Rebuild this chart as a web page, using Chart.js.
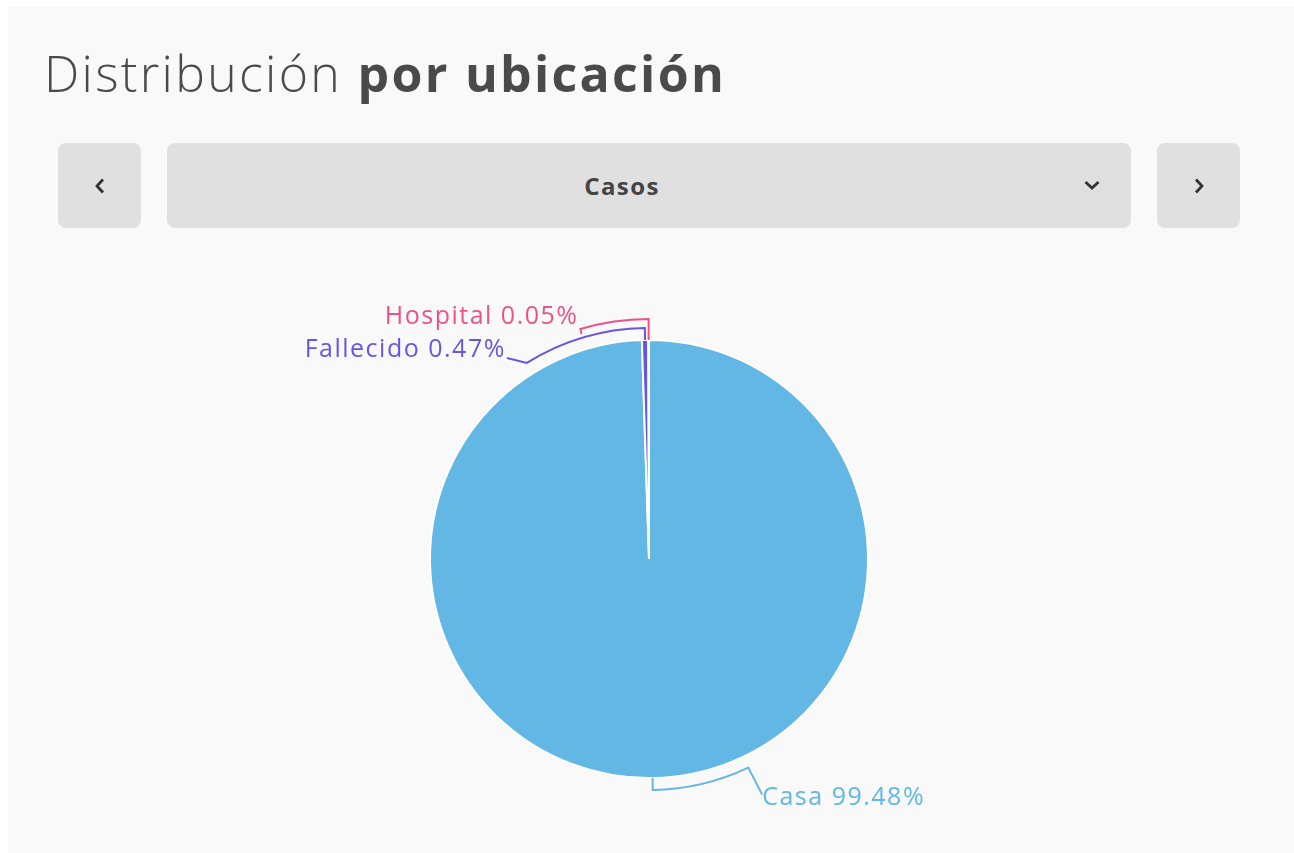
<!DOCTYPE html>
<html>
<head>
<meta charset="utf-8">
<script src="https://cdn.jsdelivr.net/npm/chart.js@4/dist/chart.umd.min.js"></script>
<style>
  html, body { margin: 0; padding: 0; background: #fff; }
  body { width: 1294px; height: 853px; position: relative; overflow: hidden; font-family: "Open Sans", sans-serif; }
  .card { position: absolute; left: 8px; top: 7px; width: 1286px; height: 846px; background: #f9f9f9; }
  h1 { position: absolute; left: 36px; top: 36px; margin: 0; font-size: 50px; line-height: 60px; font-weight: 300; color: #4a4a4a; white-space: nowrap; letter-spacing: 2.3px; }
  h1 b { font-weight: 700; }
  .btn { position: absolute; top: 136px; height: 85px; background: #e0e0e0; border-radius: 8px; color: #333; display: flex; align-items: center; justify-content: center; }
  .btn svg { width: 20px; height: 20px; }
  #prev { left: 50px; width: 83px; }
  #next { left: 1149px; width: 83px; }
  #sel { left: 159px; width: 964px; font-weight: 700; font-size: 24px; letter-spacing: 1.4px; color: #444; }
  #sel span { position: relative; left: -27px; }
  #sel svg { position: absolute; left: 915px; top: 32px; }
  .wrap { position: absolute; left: 0; top: 240px; width: 1294px; height: 613px; }
</style>
</head>
<body>
<div class="card">
  <h1>Distribución <b>por ubicación</b></h1>
  <div class="btn" id="prev"><svg viewBox="0 0 20 20"><path d="M13 3.5 L7 10 L13 16.5" fill="none" stroke="#333" stroke-width="2.8"/></svg></div>
  <div class="btn" id="sel"><span>Casos</span><svg viewBox="0 0 20 20"><path d="M3.5 7 L10 13 L16.5 7" fill="none" stroke="#333" stroke-width="2.8"/></svg></div>
  <div class="btn" id="next"><svg viewBox="0 0 20 20"><path d="M7 3.5 L13 10 L7 16.5" fill="none" stroke="#333" stroke-width="2.8"/></svg></div>
</div>
<div class="wrap"><canvas id="pie"></canvas></div>
<script>
var ubicaciones = ['Casa', 'Fallecido', 'Hospital'];
var porcentajes = [99.48, 0.47, 0.05];
var colores = ['#62b7e5', '#6b55e0', '#ea5288'];

// callout settings per slice: radial offset, bend angle (deg from slice middle), tick end, text offset
var callouts = [
  { off: 12, bend: -24.5, tick: [14, 27], text: [0, 3], align: 'left' },
  { off: 12, bend: -30.9, tick: [-20, -5], text: [-1, -8], align: 'right' },
  { off: 21, bend: -16.5, tick: [1, 5], text: [-3, -17], align: 'right' }
];

var calloutPlugin = {
  id: 'callouts',
  afterDatasetsDraw(chart) {
    var ctx = chart.ctx;
    var arcs = chart.getDatasetMeta(0).data;
    arcs.forEach(function (arc, i) {
      var c = callouts[i];
      var mid = (arc.startAngle + arc.endAngle) / 2;
      var r = arc.outerRadius;
      var R = r + c.off;
      var end = mid + c.bend * Math.PI / 180;
      var bx = arc.x + R * Math.cos(end), by = arc.y + R * Math.sin(end);
      var tx = bx + c.tick[0], ty = by + c.tick[1];
      ctx.save();
      ctx.strokeStyle = colores[i];
      ctx.lineWidth = 2;
      ctx.beginPath();
      ctx.moveTo(arc.x + r * Math.cos(mid), arc.y + r * Math.sin(mid));
      ctx.lineTo(arc.x + R * Math.cos(mid), arc.y + R * Math.sin(mid));
      ctx.arc(arc.x, arc.y, R, mid, end, end < mid);
      ctx.lineTo(tx, ty);
      ctx.stroke();
      ctx.fillStyle = colores[i];
      ctx.font = '400 25px "Open Sans"';
      ctx.letterSpacing = '1.5px';
      ctx.textAlign = c.align;
      ctx.textBaseline = 'middle';
      ctx.fillText(ubicaciones[i] + ' ' + porcentajes[i].toFixed(2) + '%', tx + c.text[0], ty + c.text[1]);
      ctx.restore();
    });
  }
};

new Chart(document.getElementById('pie'), {
  type: 'pie',
  data: {
    labels: ubicaciones,
    datasets: [{
      data: porcentajes,
      backgroundColor: colores,
      borderColor: '#ffffff',
      borderWidth: 2
    }]
  },
  options: {
    responsive: true,
    maintainAspectRatio: false,
    animation: false,
    layout: { padding: { top: 99, bottom: 74, left: 4, right: 0 } },
    plugins: {
      legend: { display: false },
      tooltip: { enabled: false }
    }
  },
  plugins: [calloutPlugin]
});
</script>
</body>
</html>
